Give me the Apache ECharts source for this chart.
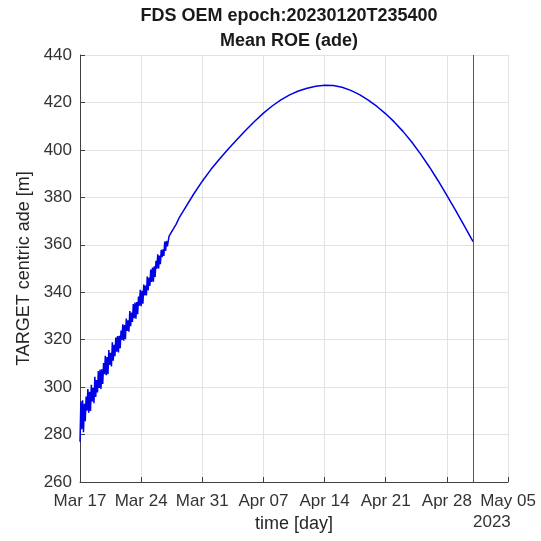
<!DOCTYPE html>
<html>
<head>
<meta charset="utf-8">
<script src="https://cdn.jsdelivr.net/npm/echarts@6/dist/echarts.min.js"></script>
<style>html,body{margin:0;padding:0;background:#fff;}#c{width:541px;height:541px;}</style>
</head>
<body>
<div id="c"></div>
<script>
// Tick labels (x axis is days since Mar 17, 2023)
const xTickLabels = ['Mar 17','Mar 24','Mar 31','Apr 07','Apr 14','Apr 21','Apr 28','May 05'];
const yearLabel = '2023';
const endDay = 45; // vertical marker (May 01)

// Days since Mar 17
const days = [
  0,0.1,0.2,0.3,0.4,0.5,0.6,0.7,0.8,0.9,
  1,1.1,1.2,1.3,1.4,1.5,1.6,1.7,1.8,1.9,
  2,2.1,2.2,2.3,2.4,2.5,2.6,2.7,2.8,2.9,
  3,3.1,3.2,3.3,3.4,3.5,3.6,3.7,3.8,3.9,
  4,4.1,4.2,4.3,4.4,4.5,4.6,4.7,4.8,4.9,
  5,5.1,5.2,5.3,5.4,5.5,5.6,5.7,5.8,5.9,
  6,6.1,6.2,6.3,6.4,6.5,6.6,6.7,6.8,6.9,
  7,7.1,7.2,7.3,7.4,7.5,7.6,7.7,7.8,7.9,
  8,8.1,8.2,8.3,8.4,8.5,8.6,8.7,8.8,8.9,
  9,9.1,9.2,9.3,9.4,9.5,9.6,9.7,9.8,9.9,
  10,10.2,10.4,10.6,10.8,11,11.2,11.4,11.6,11.8,12,
  13,14,15,16,17,18,19,20,21,22,23,24,25,26,27,28,29,30,
  31,32,33,34,35,36,37,38,39,40,41,42,43,44,45
];
// TARGET centric ade [m]
const ade = [
  277,294,282.2,294.4,281,293,285.6,296,290.1,299.2,
  289.2,298,289.9,301,294,299.7,293.2,304.4,295.8,303,
  297.7,306.8,299.6,307.4,299.2,307.5,301.3,310.1,305.4,313.2,
  305,312.7,305.4,315.6,309.3,314.5,308.7,318.9,311.1,317.8,
  313,320.9,314.9,321.5,314.6,321.6,316.4,323.8,319.9,326.5,
  319.6,326.2,320.2,328.9,323.7,328.2,323.4,332.1,325.7,331.4,
  327.5,335,329,335.7,328.8,335.9,330.7,338.2,334.3,341,
  334.1,340.6,335.2,343.2,338.6,342.8,338.6,346.6,340.8,346.2,
  342.7,349.6,344.3,350.4,344.4,350.9,346.4,353.3,349.9,356,
  350,355.5,351.8,357.9,354.8,358.1,355.3,361.4,357.4,361.6,
  359.3,363.6,363,366.2,365.4,368.6,368.4,371.7,371.6,374.1,374.6,
  381.3,386.8,391.8,396.3,400.5,404.5,408.4,412.1,415.5,418.5,421.1,423.2,424.8,426,426.8,427.2,427.1,426.4,
  425.1,423.3,421,418.3,415.2,411.7,407.7,403.2,398.2,392.8,387,380.8,374.5,368,361.3
];

const seriesData = days.map((d, i) => [d, ade[i]]);

const chart = echarts.init(document.getElementById('c'), null, {renderer: 'canvas'});
const FONT = 'Liberation Sans, Arial, Helvetica, sans-serif';
const AX = '#404040';
chart.setOption({
  animation: false,
  backgroundColor: '#ffffff',
  title: {
    text: 'FDS OEM epoch:20230120T235400\nMean ROE (ade)',
    left: 284, top: -1, textAlign: 'center',
    textStyle: {fontFamily: FONT, fontSize: 18, fontWeight: 'bold', color: '#1a1a1a', lineHeight: 25}
  },
  grid: {left: 80, right: 33, top: 55, bottom: 59, containLabel: false},
  xAxis: {
    type: 'value', min: 0, max: 49, interval: 7,
    name: 'time [day]', nameLocation: 'middle', nameGap: 31,
    nameTextStyle: {fontFamily: FONT, fontSize: 18, color: '#262626'},
    axisLine: {show: true, onZero: false, lineStyle: {color: AX, width: 1}},
    axisTick: {show: true, inside: true, length: 5, lineStyle: {color: AX}},
    axisLabel: {fontFamily: FONT, fontSize: 17, color: '#333', margin: 11,
      formatter: v => xTickLabels[Math.round(v / 7)] || ''},
    splitLine: {show: true, lineStyle: {color: '#e2e2e2', width: 1}}
  },
  yAxis: {
    type: 'value', min: 260, max: 440, interval: 20,
    name: 'TARGET centric ade [m]', nameLocation: 'middle', nameGap: 44,
    nameTextStyle: {fontFamily: FONT, fontSize: 18, color: '#262626'},
    axisLine: {show: true, lineStyle: {color: AX, width: 1}},
    axisTick: {show: true, inside: true, length: 5, lineStyle: {color: AX}},
    axisLabel: {fontFamily: FONT, fontSize: 17, color: '#333', margin: 8},
    splitLine: {show: true, lineStyle: {color: '#e2e2e2', width: 1}}
  },
  graphic: [{
    type: 'text', left: 473, top: 514,
    style: {text: yearLabel, fontFamily: FONT, fontSize: 17, fill: '#333', textAlign: 'center'}
  }],
  series: [{
    type: 'line', data: seriesData, showSymbol: false, symbol: 'none',
    lineStyle: {color: '#0000e6', width: 1.5},
    markLine: {
      silent: true, symbol: 'none', label: {show: false},
      lineStyle: {color: '#555555', type: 'solid', width: 1},
      data: [{xAxis: endDay}]
    }
  }]
});
</script>
</body>
</html>
